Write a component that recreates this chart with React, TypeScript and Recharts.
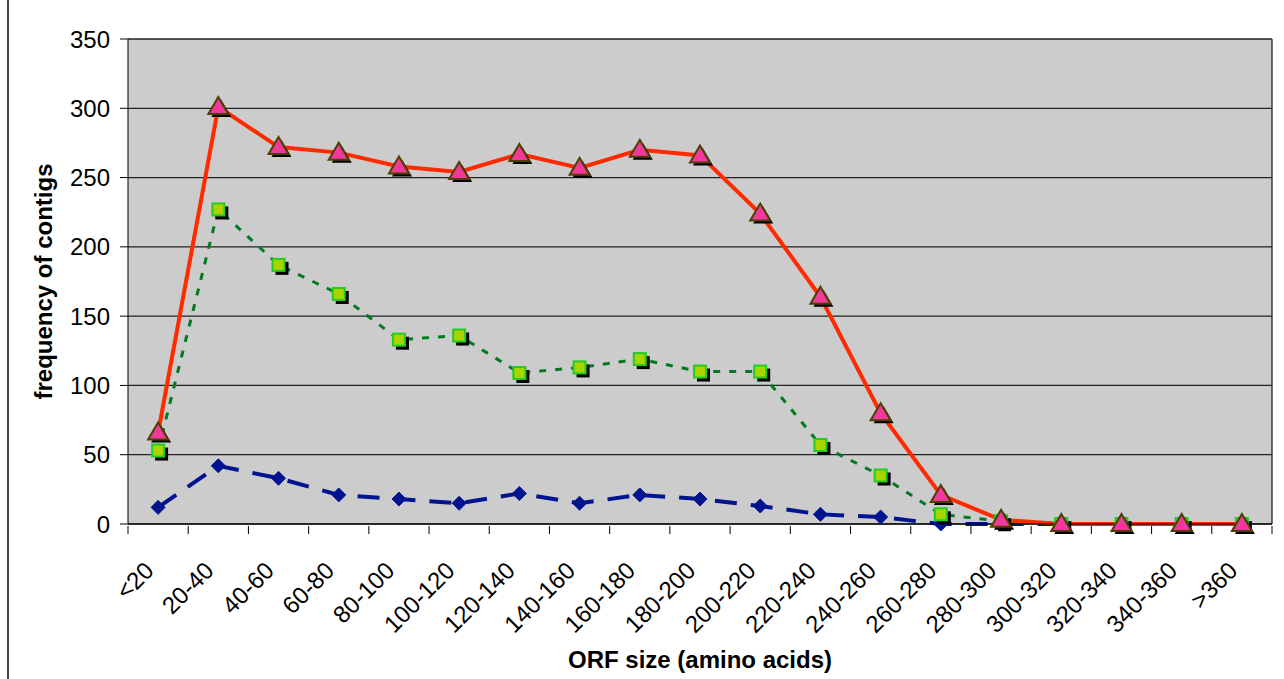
import React from "react";
import { LineChart, Line, XAxis, YAxis, CartesianGrid } from "recharts";

const categories = [
  "<20", "20-40", "40-60", "60-80", "80-100", "100-120", "120-140", "140-160", "160-180",
  "180-200", "200-220", "220-240", "240-260", "260-280", "280-300", "300-320", "320-340",
  "340-360", ">360",
];
const redSeries = [66, 301, 272, 268, 258, 254, 267, 257, 270, 266, 224, 164, 80, 21, 3, 0, 0, 0, 0];
const greenSeries = [53, 227, 187, 166, 133, 136, 109, 113, 119, 110, 110, 57, 35, 7, 2, 0, 0, 0, 0];
const blueSeries = [12, 42, 33, 21, 18, 15, 22, 15, 21, 18, 13, 7, 5, 0, 0, 0, 0, 0, 0];
const yTicks = [0, 50, 100, 150, 200, 250, 300, 350];

const data = categories.map((name, i) => ({
  name,
  red: redSeries[i],
  green: greenSeries[i],
  blue: blueSeries[i],
}));

const FONT = "'Liberation Sans', Arial, sans-serif";
const PLOT_LEFT = 128;
const PLOT_RIGHT = 1272;
const BAND = (PLOT_RIGHT - PLOT_LEFT) / categories.length;

function XTick(props: any) {
  const { x, y, payload, index } = props;
  const half = BAND / 2;
  const isLast = index === categories.length - 1;
  return (
    <g>
      <line x1={x - half} y1={y} x2={x - half} y2={y + 8} stroke="#000" strokeWidth={1} />
      {isLast && <line x1={x + half} y1={y} x2={x + half} y2={y + 8} stroke="#000" strokeWidth={1} />}
      <text
        transform={`translate(${x - 3},${y + 46}) rotate(-45)`}
        textAnchor="end"
        fontSize={24}
        fontFamily={FONT}
        fill="#000"
      >
        {payload.value}
      </text>
    </g>
  );
}

function Triangle(props: any) {
  const { cx, cy, index } = props;
  if (cx == null || cy == null) return <g key={`t${index}`} />;
  const pts = (dx: number, dy: number) =>
    `${cx + dx},${cy - 10 + dy} ${cx + 10 + dx},${cy + 7 + dy} ${cx - 10 + dx},${cy + 7 + dy}`;
  return (
    <g key={`t${index}`}>
      <polygon points={pts(3, 3)} fill="#000" />
      <polygon points={pts(0, 0)} fill="#f0399a" stroke="#4d3f00" strokeWidth={2} strokeLinejoin="miter" />
    </g>
  );
}

function Square(props: any) {
  const { cx, cy, index } = props;
  if (cx == null || cy == null) return <g key={`s${index}`} />;
  return (
    <g key={`s${index}`}>
      <rect x={cx - 6 + 3} y={cy - 6 + 3} width={13} height={13} fill="#000" />
      <rect x={cx - 6} y={cy - 6} width={12} height={12} fill="#a8d400" stroke="#22cc22" strokeWidth={2} />
    </g>
  );
}

function Diamond(props: any) {
  const { cx, cy, index } = props;
  if (cx == null || cy == null) return <g key={`d${index}`} />;
  return (
    <g key={`d${index}`}>
      <polygon
        points={`${cx},${cy - 7} ${cx + 7},${cy} ${cx},${cy + 7} ${cx - 7},${cy}`}
        fill="#001490"
        stroke="#001490"
        strokeWidth={1}
      />
    </g>
  );
}

export default function App() {
  return (
    <div
      style={{
        position: "absolute",
        left: 0,
        top: 0,
        width: 1284,
        height: 679,
        background: "#fff",
        fontFamily: FONT,
      }}
    >
      <div
        style={{
          position: "absolute",
          left: 7,
          top: 0,
          width: 2,
          height: 679,
          background: "#444",
        }}
      />
      <LineChart
        width={1284}
        height={679}
        data={data}
        margin={{ top: 39, right: 1284 - PLOT_RIGHT, left: 0, bottom: 0 }}
      >
        <CartesianGrid
          fill="#cccccc"
          stroke="#222"
          strokeWidth={1.3}
          vertical={true}
          verticalPoints={[PLOT_RIGHT]}
          horizontal={true}
        />
        <XAxis
          dataKey="name"
          height={155}
          tickSize={0}
          tickLine={false}
          interval={0}
          padding={{ left: BAND / 2, right: BAND / 2 }}
          axisLine={{ stroke: "#000", strokeWidth: 1 }}
          tick={<XTick />}
          label={{
            value: "ORF size (amino acids)",
            position: "insideBottom",
            offset: 11,
            fontSize: 24,
            fontWeight: "bold",
            fill: "#000",
            fontFamily: FONT,
          }}
        />
        <YAxis
          width={128}
          domain={[0, 350]}
          ticks={yTicks}
          interval={0}
          tickSize={8}
          tickMargin={10}
          axisLine={{ stroke: "#000", strokeWidth: 1 }}
          tickLine={{ stroke: "#000", strokeWidth: 1 }}
          tick={{ fontSize: 24, fill: "#000", fontFamily: FONT }}
          label={{
            value: "frequency of contigs",
            angle: -90,
            position: "insideLeft",
            offset: 43,
            fontSize: 24,
            fontWeight: "bold",
            fill: "#000",
            fontFamily: FONT,
            style: { textAnchor: "middle" },
          }}
        />
        <Line
          type="linear"
          dataKey="blue"
          stroke="#001490"
          strokeWidth={4}
          strokeDasharray="22 14"
          dot={<Diamond />}
          activeDot={false}
          isAnimationActive={false}
        />
        <Line
          type="linear"
          dataKey="green"
          stroke="#007a20"
          strokeWidth={3}
          strokeDasharray="7 9"
          dot={<Square />}
          activeDot={false}
          isAnimationActive={false}
        />
        <Line
          type="linear"
          dataKey="red"
          stroke="#ff2a00"
          strokeWidth={4}
          dot={<Triangle />}
          activeDot={false}
          isAnimationActive={false}
        />
      </LineChart>
    </div>
  );
}
